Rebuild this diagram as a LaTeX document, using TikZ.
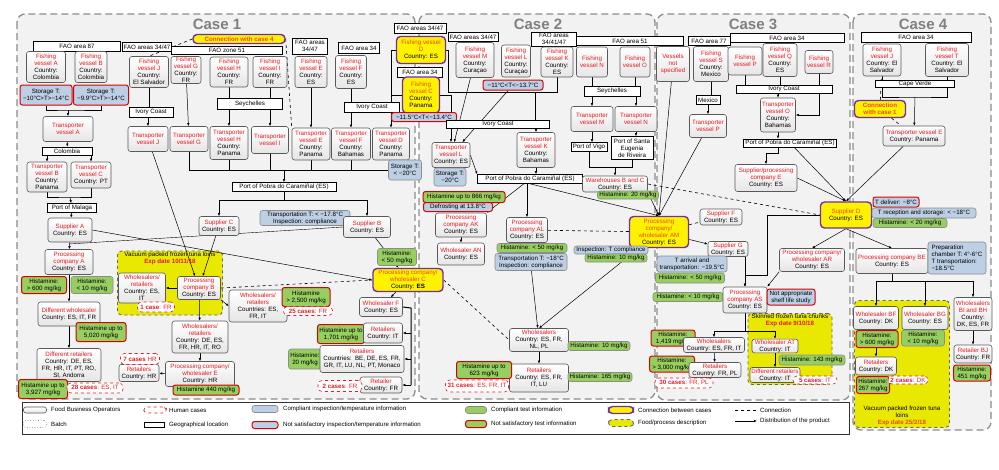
\documentclass[tikz,border=0pt]{standalone}
\usepackage{fontspec}
\setmainfont{Liberation Sans}
\usetikzlibrary{arrows.meta,calc}
\definecolor{fbored}{RGB}{228,28,36}
\definecolor{linkred}{RGB}{232,76,12}
\definecolor{inspblue}{RGB}{189,207,229}
\definecolor{testgreen}{RGB}{150,206,96}
\definecolor{linkpurple}{RGB}{112,48,160}
\definecolor{foodyellow}{RGB}{232,232,0}
\newcommand{\rd}{\color{fbored}}
\newcommand{\rl}{\color{linkred}}
\pgfdeclarelayer{bg}
\pgfdeclarelayer{wires}
\pgfsetlayers{bg,wires,main}
\tikzset{
wh/.style 2 args={minimum width=#1,minimum height=#2},
fbase/.style={rounded corners=2.5pt,inner sep=0.5pt,align=center},
fbo/.style={fbase,draw=black!65,line width=0.6pt,top color=white,bottom color=black!10},
geo/.style={draw=black,line width=0.6pt,fill=white,inner sep=0.5pt,align=center},
insp/.style={fbase,draw=black!45,line width=0.6pt,fill=inspblue},
inspbad/.style={fbase,draw=red!85!black,line width=1pt,fill=inspblue},
testok/.style={fbase,draw=black!45,line width=0.6pt,fill=testgreen},
testbad/.style={fbase,draw=red!85!black,line width=1pt,fill=testgreen},
linkbox/.style={fbase,rounded corners=4pt,draw=linkpurple,line width=1.4pt,fill=yellow},
human/.style={fbase,rounded corners=4pt,draw=fbored,dashed,line width=0.6pt,fill=white,text=fbored},
batchsym/.style={fbase,draw=black!50,dotted,line width=0.6pt,fill=white},
food/.style={rounded corners=4pt,draw=black!60,dashed,line width=0.9pt,fill=foodyellow},
casebox/.style={rounded corners=8pt,draw=black!45,dash pattern=on 7pt off 4pt,line width=1.3pt,fill=black!5},
casettl/.style={font=\fontsize{15}{15}\selectfont\bfseries,text=black!50},
dist/.style={-{Latex[length=3pt,width=2.4pt]},line width=0.5pt},
conn/.style={dashed,line width=0.6pt},
legtxt/.style={anchor=west,inner sep=0pt,font=\fontsize{6.1}{7}\selectfont}
}
\begin{document}
\begin{tikzpicture}[x=1pt,y=-1pt,every node/.style={font=\fontsize{6.2}{7}\selectfont}]
\useasboundingbox (0,0) rectangle (999,469);

% case frames and batches
\begin{pgfonlayer}{bg}
\draw[casebox] (17,14) rectangle (415,399);
\draw[casebox] (419,14) rectangle (655,399);
\draw[casebox] (657,14) rectangle (850,400);
\draw[casebox] (853,14) rectangle (991,430);
\node[food,wh={105}{64}] (exp1) at (170,283) {};
\node[food,wh={84}{71}] (exp3) at (790,349) {};
\node[food,wh={95}{127}] (exp4) at (902,364) {};
\end{pgfonlayer}

\node[casettl] (ttl1) at (217,24) {Case 1};
\node[casettl] (ttl2) at (538,24) {Case 2};
\node[casettl] (ttl3) at (753,24) {Case 3};
\node[casettl] (ttl4) at (923,24) {Case 4};

% case 1
\node[geo,wh={87}{10}] (fao87) at (77,46) {FAO area 87};
\node[fbo,wh={39}{31}] (fvA) at (46,67) {\rd Fishing\\\rd vessel A\\Country:\\Colombia};
\node[fbo,wh={32}{31}] (fvB) at (91,67) {\rd Fishing\\\rd vessel B\\Country:\\Colombia};
\node[inspbad,wh={52}{20}] (stA) at (46,95) {Storage T:\\−10°C>T>−14°C};
\node[inspbad,wh={55}{20}] (stB) at (101,95) {Storage T:\\−9.9°C>T>−14°C};
\node[fbo,wh={50}{25}] (tvA) at (68,129) {\rd Transporter\\\rd vessel A};
\node[geo,wh={50}{8}] (col) at (67,151) {Colombia};
\node[fbo,wh={40}{30}] (tvB) at (47,177) {\rd Transporter\\\rd vessel B\\Country:\\Panama};
\node[fbo,wh={40}{26}] (tvC) at (91,175) {\rd Transporter\\\rd vessel C\\Country: PT};
\node[geo,wh={49}{9}] (mal) at (72,208) {Port of Malaga};
\node[fbo,wh={44}{24}] (supA) at (70,230) {\rd Supplier A\\Country: ES};
\node[fbo,wh={48}{25}] (pcA) at (69,262) {\rd Processing\\\rd company A\\Country: ES};
\node[testbad,wh={45}{17}] (hA1) at (44,285) {Histamine:\\> 600 mg/kg};
\node[testok,wh={42}{17}] (hA2) at (92,285) {Histamine:\\< 10 mg/kg};
\node[fbo,wh={62}{24}] (dwh) at (69,314) {\rd Different wholesaler\\Country: ES, IT, FR};
\node[testbad,wh={50}{19}] (hdw) at (101,332) {Histamine up to\\5,020 mg/kg};
\node[fbo,wh={64}{33}] (drt) at (69,365) {\rd Different retailers\\Country: DE, ES,\\FR, HR, IT, PT, RO,\\SI, Andorra};
\node[testbad,wh={49}{19}] (hdr) at (43,389) {Histamine up to\\3,927 mg/kg};
\node[human,wh={56}{10}] (hc28) at (95,388) {\textbf{28 cases}: ES, IT};

\node[geo,wh={49}{9}] (fao3447a) at (147,47) {FAO areas 34/47};
\node[geo,wh={111}{8}] (fz51) at (227,50) {FAO zone 51};
\node[linkbox,wh={92}{9},font=\fontsize{6.2}{7}\selectfont\bfseries] (lnk4) at (239,39) {\rl Connection with case 4};
\node[fbo,wh={39}{31}] (fvJ) at (149,72) {\rd Fishing\\\rd vessel J\\Country:\\El Salvador};
\node[fbo,wh={30}{27}] (fvG) at (186,70) {\rd Fishing\\\rd vessel G\\Country:\\FR};
\node[fbo,wh={38}{30}] (fvH) at (229,72) {\rd Fishing\\\rd vessel H\\Country:\\FR};
\node[fbo,wh={34}{31}] (fvI) at (270,72) {\rd Fishing\\\rd vessel I\\Country:\\FR};
\node[geo,wh={35}{16}] (fao3447b) at (310,46) {FAO areas\\34/47};
\node[fbo,wh={32}{31}] (fvE) at (311,72) {\rd Fishing\\\rd vessel E\\Country:\\ES};
\node[geo,wh={41}{11}] (fao34a) at (359,48) {FAO area 34};
\node[fbo,wh={31}{33}] (fvF) at (351,72) {\rd Fishing\\\rd vessel F\\Country:\\ES};
\node[geo,wh={44}{10}] (icA) at (151,112) {Ivory Coast};
\node[geo,wh={65}{11}] (sey1) at (250,104) {Seychelles};
\node[geo,wh={55}{10}] (icB) at (372,107) {Ivory Coast};
\node[fbo,wh={40}{25}] (tvJ) at (148,139) {\rd Transporter\\\rd vessel J};
\node[fbo,wh={38}{25}] (tvG) at (189,139) {\rd Transporter\\\rd vessel G};
\node[fbo,wh={38}{33}] (tvH) at (229,143) {\rd Transporter\\\rd vessel H\\Country:\\Panama};
\node[fbo,wh={37}{27}] (tvI) at (270,140) {\rd Transporter\\\rd vessel I};
\node[fbo,wh={38}{32}] (tvE) at (311,144) {\rd Transporter\\\rd vessel E\\Country:\\Panama};
\node[fbo,wh={39}{32}] (tvF) at (351,144) {\rd Transporter\\\rd vessel F\\Country:\\Bahamas};
\node[fbo,wh={37}{32}] (tvD) at (391,144) {\rd Transporter\\\rd vessel D\\Country:\\Panama};
\node[insp,wh={33}{20}] (stD) at (405,170) {Storage T:\\< −20°C};
\node[geo,wh={104}{9}] (pob1) at (284,187) {Port of Pobra do Caramiñal (ES)};
\node[fbo,wh={40}{19}] (supC) at (219,226) {\rd Supplier C\\Country: ES};
\node[insp,wh={90}{15}] (trT) at (305,218) {Transportation T: < −17.8°C\\Inspection: compliance};
\node[fbo,wh={47}{21}] (supB) at (367,227) {\rd Supplier B\\Country: ES};
\node[testok,wh={39}{17}] (hC) at (397,257) {Histamine:\\< 50 mg/kg};
\node[linkbox,wh={70}{23}] (pcC) at (408,280) {\rl Processing company/\\\rl wholesaler C\\Country: \textbf{ES}};
\node[anchor=north,align=center,inner sep=1pt] (exp1t) at (exp1.north) {Vacuum packed frozen tuna loins\\\color{fbored}\bfseries Exp date 10/11/18};
\node[fbo,wh={47}{30}] (wr1) at (142,288) {\rd Wholesalers/\\\rd retailers\\Country: ES,\\IT};
\node[fbo,wh={43}{23}] (pcB) at (199,288) {\rd Processing\\\rd company B\\Country: ES};
\node[human,wh={37}{10}] (hc1) at (156,307) {\textbf{1 case}: FR};
\node[fbo,wh={58}{32}] (wr2) at (258,306) {\rd Wholesalers/\\\rd retailers\\Countries: ES,\\FR, IT};
\node[testbad,wh={48}{19}] (hwr2) at (306,297) {Histamine\\> 2,500 mg/kg};
\node[human,wh={49}{9}] (hc25) at (308,311) {\textbf{25 cases}: FR};
\node[fbo,wh={43}{19}] (whF) at (381,307) {\rd Wholesaler F\\Country: ES};
\node[testbad,wh={47}{19}] (hrIT) at (341,334) {Histamine up to\\1,701 mg/kg};
\node[fbo,wh={39}{20}] (rtIT) at (383,333) {\rd Retailers\\Country: IT};
\node[testok,wh={33}{20}] (h20a) at (305,359) {Histamine:\\20 mg/kg};
\node[fbo,wh={84}{27}] (rtM) at (362,359) {\rd Retailers\\Countries:\ \ BE, DE, ES, FR,\\GR, IT, LU, NL, PT, Monaco};
\node[fbo,wh={42}{16}] (rtFR) at (381,385) {\rd Retailer\\Country: FR};
\node[human,wh={44}{11}] (hc2) at (340,386) {\textbf{2 cases}: FR};
\node[fbo,wh={56}{32}] (wr3) at (200,337) {\rd Wholesalers/\\\rd retailers\\Country: DE, ES,\\FR, HR, IT, RO};
\node[fbo,wh={69}{25}] (pcE) at (200,374) {\rd Processing company/\\\rd wholesaler E\\Country: HR};
\node[testbad,wh={66}{10}] (h440) at (206,390) {Histamine 440 mg/kg};
\node[fbo,wh={40}{17}] (rtHR) at (139,373) {\rd Retailers\\Country: HR};
\node[human,wh={39}{11}] (hc7) at (140,359) {\textbf{7 cases} HR};

% case 2
\node[geo,wh={52}{10}] (fao3447c) at (420,28) {FAO areas 34/47};
\node[linkbox,wh={49}{27}] (fvD) at (421,50) {\rl Fishing vessel\\\rl D\\Country: ES};
\node[geo,wh={45}{10}] (fao34b) at (420,72) {FAO area 34};
\node[linkbox,wh={37}{36}] (fvC) at (421,95) {\rl Fishing\\\rl vessel C\\Country:\\Panama};
\node[inspbad,wh={65}{9}] (stC) at (424,117) {−11.5°C<T<−13.4°C};
\node[geo,wh={50}{9}] (fao3447d) at (473,37) {FAO areas 34/47};
\node[fbo,wh={38}{35}] (fvM) at (475,60) {\rd Fishing\\\rd vessel M\\Country:\\Curaçao};
\node[fbo,wh={29}{32}] (fvL) at (516,61) {\rd Fishing\\\rd vessel L\\Country:\\Curaçao};
\node[inspbad,wh={60}{10}] (stL) at (513,85) {−11°C<T<−13.7°C};
\node[geo,wh={45}{14}] (fao344147) at (554,39) {FAO areas\\34/41/47};
\node[geo,wh={107}{9}] (fao51) at (630,41) {FAO area 51};
\node[fbo,wh={32}{30}] (fvK) at (557,62) {\rd Fishing\\\rd vessel K\\Country:\\ES};
\node[fbo,wh={31}{30}] (fvN) at (592,62) {\rd Fishing\\\rd vessel N};
\node[fbo,wh={30}{30}] (fvO) at (635,62) {\rd Fishing\\\rd vessel O};
\node[geo,wh={103}{8}] (icC) at (498,124) {Ivory Coast};
\node[geo,wh={56}{10}] (sey2) at (612,91) {Seychelles};
\node[fbo,wh={42}{25}] (tvM) at (592,119) {\rd Transporter\\\rd vessel M};
\node[fbo,wh={42}{25}] (tvN) at (636,119) {\rd Transporter\\\rd vessel N};
\node[geo,wh={36}{9}] (vigo) at (589,147) {Port of Vigo};
\node[geo,wh={42}{23}] (eug) at (632,148) {Port of Santa\\Eugenia\\de Riveira};
\node[fbo,wh={38}{25}] (tvL) at (451,155) {\rd Transporter\\\rd vessel L\\Country: ES};
\node[insp,wh={32}{18}] (stLL) at (450,177) {Storage T:\\−20°C};
\node[fbo,wh={38}{35}] (tvK) at (536,150) {\rd Transporter\\\rd vessel K\\Country:\\Bahamas};
\node[geo,wh={105}{9}] (pob2) at (530,179) {Port of Pobra do Caramiñal (ES)};
\node[fbo,wh={65}{16}] (whBC) at (615,184) {\rd Warehouses B and C\\Country: ES};
\node[testok,wh={61}{8}] (h20b) at (628,195) {Histamine: 20 mg/kg};
\node[testbad,wh={82}{11}] (h866) at (464,197) {Histamine up to 866 mg/kg};
\node[inspbad,wh={69}{9}] (dfr) at (458,207) {Defrosting at 13.8°C};
\node[fbo,wh={51}{24}] (pcAK) at (461,225) {\rd Processing\\\rd company AK\\Country: ES};
\node[fbo,wh={47}{22}] (whAN) at (461,254) {\rd Wholesaler AN\\Country: ES};
\node[fbo,wh={41}{25}] (pcAL) at (527,230) {\rd Processing\\\rd company AL\\Country: ES};
\node[testok,wh={70}{9}] (h50b) at (532,248) {Histamine: < 50 mg/kg};
\node[insp,wh={72}{17}] (trT2) at (531,262) {Transportation T: −18°C\\Inspection: compliance};
\node[linkbox,wh={59}{31}] (pcAM) at (659,232) {\rl Processing\\\rl company/\\\rl wholesaler AM\\Country: ES};
\node[insp,wh={74}{8}] (inT) at (611,250) {Inspection: T compliance};
\node[testok,wh={62}{8}] (h10b) at (616,258) {Histamine: 10 mg/kg};
\node[fbo,wh={59}{23}] (whs2) at (539,340) {\rd Wholesalers\\Country: ES, FR,\\NL, PL};
\node[testok,wh={62}{9}] (h10c) at (599,346) {Histamine: 10 mg/kg};
\node[fbo,wh={59}{28}] (rts2) at (539,378) {\rd Retailers\\Country: ES, FR,\\IT, LU};
\node[testok,wh={64}{9}] (h165) at (600,377) {Histamine: 165 mg/kg};
\node[testbad,wh={55}{17}] (h623) at (484,370) {Histamine up to\\623 mg/kg};
\node[human,wh={63}{12}] (hc31) at (477,386) {\textbf{31 cases}: ES, FR, IT};

% case 3
\node[geo,wh={42}{9}] (fao77) at (709,41) {FAO area 77};
\node[geo,wh={114}{9}] (fao34c) at (787,38) {FAO area 34};
\node[fbo,wh={33}{35}] (vns) at (673,64) {\rd Vessels\\\rd not\\\rd specified};
\node[fbo,wh={35}{35}] (fvS) at (711,64) {\rd Fishing\\\rd vessel S\\Country:\\Mexico};
\node[fbo,wh={34}{28}] (fvP) at (745,61) {\rd Fishing\\\rd vessel P};
\node[fbo,wh={34}{33}] (fvQ) at (780,60) {\rd Fishing\\\rd vessel Q\\Country:\\ES};
\node[fbo,wh={28}{23}] (fvR) at (819,62) {\rd Fishing\\\rd vessel R};
\node[geo,wh={24}{9}] (mex) at (708,100) {Mexico};
\node[fbo,wh={37}{23}] (tvP) at (708,126) {\rd Transporter\\\rd vessel P};
\node[geo,wh={96}{8}] (ic3) at (784,89) {Ivory Coast};
\node[fbo,wh={35}{34}] (tvO) at (778,115) {\rd Transporter\\\rd vessel O\\Country:\\Bahamas};
\node[geo,wh={93}{8}] (pob3) at (790,143) {Port of Pobra do Caramiñal (ES)};
\node[fbo,wh={62}{27}] (spE) at (766,178) {\rd Supplier/processing\\\rd company E\\Country: ES};
\node[linkbox,wh={51}{26}] (supD) at (846,215) {\rl Supplier D\\Country: ES};
\node[inspbad,wh={46}{10}] (tdel) at (896,202) {T deliver: −8°C};
\node[insp,wh={104}{10}] (trec) at (924,213) {T reception and storage: < −18°C};
\node[testok,wh={74}{9}] (h20c) at (910,223) {Histamine: < 20 mg/kg};
\node[fbo,wh={42}{16}] (supF) at (721,217) {\rd Supplier F\\Country: ES};
\node[fbo,wh={40}{15}] (supG) at (728,249) {\rd Supplier G\\Country: ES};
\node[insp,wh={70}{16}] (tarr) at (692,264) {T arrival and\\transportation: −19.5°C};
\node[testok,wh={69}{10}] (h50c) at (690,278) {Histamine: < 50 mg/kg};
\node[testok,wh={70}{9}] (h10d) at (688,297) {Histamine: < 10 mg/kg};
\node[fbo,wh={44}{26}] (pcAS) at (745,300) {\rd Processing\\\rd company AS\\Country: ES};
\node[inspbad,wh={48}{16}] (nasl) at (791,297) {Not appropriate\\shelf life study};
\node[fbo,wh={65}{23}] (pcAR) at (812,260) {\rd Processing company/\\\rd wholesaler AR\\Country: ES};
\node[anchor=north,align=center,inner sep=1pt] (exp3t) at (exp3.north) {Skinned frozen tuna chunks\\\color{fbored}\bfseries Exp date 9/10/18};
\node[fbo,wh={46}{13}] (whAT) at (775,346) {\rd Wholesaler AT\\Country: IT};
\node[testok,wh={66}{10}] (h143) at (812,360) {Histamine: 143 mg/kg};
\node[fbo,wh={50}{15}] (drt3) at (775,375) {\rd Different retailers\\Country: IT};
\node[human,wh={44}{8}] (hc5) at (815,380) {\textbf{5 cases}: IT};
\node[testbad,wh={44}{16}] (h1419) at (673,338) {Histamine:\\1,419 mg/kg};
\node[fbo,wh={61}{15}] (whs3) at (714,345) {\rd Wholesalers\\Country: ES, FR, IT};
\node[testbad,wh={45}{16}] (h3000) at (672,364) {Histamine:\\> 3,000 mg/kg};
\node[fbo,wh={52}{15}] (rts3) at (715,370) {\rd Retailers\\Country: FR, PL};
\node[human,wh={58}{10}] (hc30) at (684,383) {\textbf{30 cases}: FR, PL};

% case 4
\node[geo,wh={110}{10}] (fao34d) at (916,37) {FAO area 34};
\node[fbo,wh={38}{32}] (fvJ4) at (882,60) {\rd Fishing\\\rd vessel J\\Country: El\\Salvador};
\node[fbo,wh={43}{33}] (fvT) at (947,60) {\rd Fishing\\\rd vessel T\\Country: El\\Salvador};
\node[geo,wh={79}{7}] (cv) at (915,84) {Cape Verde};
\node[linkbox,wh={51}{17},font=\fontsize{6.2}{7}\selectfont\bfseries] (lnk1) at (880,109) {\rl Connection\\\rl with case 1};
\node[fbo,wh={62}{20}] (tvE4) at (914,136) {\rd Transporter vessel E\\Country: Panama};
\node[fbo,wh={72}{25}] (pcBE) at (892,261) {\rd Processing company BE\\Country: ES};
\node[insp,wh={58}{32},align=left] (prep) at (957,258) {Preparation\\chamber T: 4°-6°C\\T transportation:\\−18.5°C};
\node[fbo,wh={45}{23}] (whBF) at (876,318) {\rd Wholesaler BF\\Country: DK};
\node[fbo,wh={46}{23}] (whBG) at (925,318) {\rd Wholesaler BG\\Country: ES};
\node[fbo,wh={38}{33}] (whBI) at (973,314) {\rd Wholesalers\\\rd BI and BH\\Country:\\DK, ES, FR};
\node[testbad,wh={42}{17}] (h600b) at (877,339) {Histamine:\\> 600 mg/kg};
\node[testok,wh={43}{16}] (h10e) at (923,338) {Histamine:\\< 10 mg/kg};
\node[fbo,wh={41}{18}] (rtDK) at (876,366) {\rd Retailers\\Country: DK};
\node[testbad,wh={33}{17}] (h267) at (873,385) {Histamine:\\267 mg/kg};
\node[human,wh={40}{8}] (hc2dk) at (908,380) {\textbf{2 cases}: DK};
\node[fbo,wh={38}{18}] (rtBJ) at (973,354) {\rd Retailer BJ\\Country: FR};
\node[testbad,wh={37}{16}] (h451) at (972,373) {Histamine:\\451 mg/kg};
\node[anchor=south,align=center,inner sep=2pt] (exp4t) at (exp4.south) {Vacuum packed frozen tuna\\loins\\\color{linkred}\bfseries Exp date 25/2/18};

% connectors
\begin{pgfonlayer}{wires}
\coordinate (jA) at (68,110);
\draw (stA.south) |- (jA) -| (stB.south);
\draw[dist] (jA) -- (tvA);
\draw[dist] (tvA) -- (col);
\draw[dist] (col.south -| tvB) -- (tvB);
\draw[dist] (col.south -| tvC) -- (tvC);
\coordinate (jM) at (70,197);
\draw (tvB.south) |- (jM) -| (tvC.south);
\draw[dist] (jM) -- (mal);
\draw[dist] (mal) -- (supA);
\draw[dist] (supA) -- (pcA);
\coordinate (jB) at (69,244);
\draw (supB.west) -- (jB);
\draw[dist] (supA.east) -- (pcC.west);
\draw[dist] (pcA) -- (dwh);
\draw[dist] (dwh) -- (drt);
\draw (fvJ.south) -- (fvJ.south |- icA.north);
\draw[dist] (icA.south -| tvJ) -- (tvJ);
\draw[dist] (fvG) -- (tvG);
\draw (fvH) -- (fvH |- sey1.north);
\draw[dist] (sey1.south -| tvH) -- (tvH);
\draw (fvI) -- (fvI |- sey1.north);
\draw[dist] (sey1.south -| tvI) -- (tvI);
\draw[dist] (fvE) -- (tvE);
\draw (fvF) -- (fvF |- icB.north);
\draw[dist] (icB.south -| tvF) -- (tvF);
\draw (fvD.west) -- (fvD.west -| tvD) -- (tvD |- icB.north);
\draw (fvC.west) -- (fvC.west -| tvD);
\draw[dist] (icB.south -| tvD) -- (tvD);
\draw (tvG.south) |- (stD.west);
\foreach \tv in {tvH,tvI,tvE,tvF}
  \draw (\tv.south) -- (\tv.south |- stD.west);
\draw[dist] (pob1.north |- stD.west) -- (pob1);
\coordinate (jP) at (284,200);
\draw (pob1) -- (jP);
\draw[dist] (jP) -| (supC);
\draw[dist] (jP) -| (supB);
\draw[dist] (supC) -- (pcB);
\draw[dist] (tvJ) -- (pcB);
\draw[dist] (supB) -- (pcC);
\draw[dist] (pcB) -- (wr1);
\draw[dist] (pcB) -- (wr3);
\draw[dist] (pcB.south east) -- (wr2.west);
\draw[conn] (pcB.east) -- (pcC.west);
\draw[dist] (pcC) -- (whF);
\coordinate (jF) at (411,308);
\draw[line width=1pt] (whF.east) -- (jF) -- (jF |- rtFR.east);
\draw[dist] (jF |- rtIT.east) -- (rtIT.east);
\draw[dist] (jF |- rtM.east) -- (rtM.east);
\draw[dist] (jF |- rtFR.east) -- (rtFR.east);
\draw[dist] (wr3) -- (pcE);
\draw[dist] (pcE) -- (rtHR);
\draw[conn] (lnk4.west) -- (fvJ.north);
\draw[conn] (lnk4.east) -- (tvE.north west);
% case 2
\coordinate (jD) at (448,92);
\coordinate (jK) at (535,92);
\draw (fvD.east) -| (jD) -- (fvK |- jD) -- (fvK);
\draw (jK) -- (jK |- icC.north);
\draw (fvC.east) -| (tvL |- icC.north);
\draw[dist] (icC.south -| tvL) -- (tvL);
\draw[dist] (icC.south -| tvK) -- (tvK);
\draw[dist] (fvM) -- (tvL);
\draw[dist] (stL) -- (tvL);
\draw (fvN) -- (fvN |- sey2.north);
\draw[dist] (sey2.south -| tvM) -- (tvM);
\draw (fvO) -- (fvO |- sey2.north);
\draw[dist] (sey2.south -| tvN) -- (tvN);
\draw[dist] (tvM) -- (tvM |- vigo.north);
\draw[dist] (tvN) -- (tvN |- eug.north);
\coordinate (jW) at (615,167);
\draw (vigo.south) |- (jW);
\draw (eug.south) |- (jW);
\draw[dist] (jW) -- (whBC);
\draw[dist] (tvK) -- (tvK |- pob2.north);
\draw[dist] (tvL.east) -- (pob2.north west);
\draw[dist] (pob2) -- (pcAK.north east);
\draw[dist] (pob2.south -| pcAL) -- (pcAL);
\draw[dist] (pob2.south) -- (pcAM.north);
\draw[dist] (whBC.south east) -- (pcAM.north);
\draw[dist] (vns) -- (pcAM.north);
\draw[dist] (tvP) -- (pcAM.north);
\draw[dist] (pcAK) -- (whAN);
\draw[conn] (pcAL) -- (pcAM);
\draw[dist] (pcAL) -- (whs2);
\draw[dist] (pcAM) -- (whs2.north);
\draw[conn] (pcC.east) -- (whs2.west);
\draw[dist] (whs2) -- (rts2);
\draw[conn] (pcAM) -- (supF);
\draw[dist] (pcAM) -- (supG);
\draw[conn] (whBC.east) -- (supD.west);
% case 3
\draw (fvS) -- (fvS |- mex.north);
\draw[dist] (mex) -- (tvP);
\draw (fvP) -- (fvP |- ic3.north);
\draw (fvQ) -- (fvQ |- ic3.north);
\draw[dist] (ic3.south -| tvO) -- (tvO);
\draw[dist] (fvR) |- (tvO);
\draw[dist] (tvO) -- (tvO |- pob3.north);
\coordinate (jE) at (778,153);
\draw[dist] (pob3.south -| jE) -- (jE) -| (spE);
\draw[dist] (pob3) -- (supD.north);
\draw[dist] (spE.east) -- (supD.north);
\draw[dist] (tvE4) -- (supD.north);
\draw[dist] (supD.south) -- (pcAR.north);
\draw[dist] (supD.south) -- (pcBE.north);
\coordinate (jS) at (767,275);
\draw[dist] (supD.west) -| (jS) -| (pcAS.north);
\draw[dist] (supG.south -| pcAS.north) -- (pcAS.north);
\draw[dist] (pcAR.south west) -- (pcAS.north east);
\coordinate (jT) at (745,331);
\draw (pcAS) -- (jT);
\draw[dist] (jT) -| (whs3);
\draw[dist] (jT) -| (whAT);
\draw[dist] (whs3) -- (rts3);
\draw[dist] (whAT) -- (drt3);
% case 4
\draw (fvJ4) -- (fvJ4 |- cv.north);
\draw (fvT) -- (fvT |- cv.north);
\coordinate (jV) at (915,97);
\draw (cv.south -| fvJ4) |- (jV) -| (cv.south -| fvT);
\draw[dist] (jV) -- (tvE4);
\draw[conn] (lnk1) -- (fvJ4);
\draw[conn] (lnk1) -- (tvE4);
\coordinate (jBE) at (892,281);
\draw (pcBE) -- (jBE);
\draw[dist] (jBE) -| (whBF);
\draw[dist] (jBE) -| (whBG);
\draw[dist] (jBE) -| (whBI);
\draw[dist] (whBF) -- (rtDK);
\draw[dist] (whBI) -- (rtBJ);
\end{pgfonlayer}

% legend
\node[draw=black!80,fill=white,line width=0.8pt,wh={827}{32}] (leg) at (435.5,418) {};
\node[fbo,wh={23}{6}] (lg1) at (35,410) {};
\node[legtxt] (lg1t) at (51,410) {Food Business Operators};
\node[batchsym,wh={23}{7}] (lg2) at (35,424) {};
\node[legtxt] (lg2t) at (51,424) {Batch};
\node[human,wh={23}{6}] (lg3) at (155,410) {};
\node[legtxt] (lg3t) at (169,410) {Human cases};
\node[geo,wh={20}{5}] (lg4) at (154,425) {};
\node[legtxt] (lg4t) at (169,425) {Geographical location};
\node[insp,wh={26}{7}] (lg5) at (265,409) {};
\node[legtxt] (lg5t) at (283,409) {Compliant inspection/temperature information};
\node[inspbad,wh={26}{7}] (lg6) at (265,425) {};
\node[legtxt] (lg6t) at (283,425) {Not satisfactory inspection/temperature information};
\node[testok,wh={21}{7}] (lg7) at (476,410) {};
\node[legtxt] (lg7t) at (491,410) {Compliant test information};
\node[testbad,wh={21}{7}] (lg8) at (476,424) {};
\node[legtxt] (lg8t) at (491,424) {Not satisfactory test information};
\node[linkbox,wh={25}{7}] (lg9) at (621,410) {};
\node[legtxt] (lg9t) at (638,410) {Connection between cases};
\node[food,wh={25}{7}] (lg10) at (621,423) {};
\node[legtxt] (lg10t) at (638,423) {Food/process description};
\coordinate (lg11a) at (735,410);
\coordinate (lg11b) at (757,410);
\draw[conn] (lg11a) -- (lg11b);
\node[legtxt] (lg11t) at (760,410) {Connection};
\coordinate (lg12a) at (735,421);
\coordinate (lg12b) at (757,421);
\draw[dist] (lg12a) -- (lg12b);
\node[legtxt] (lg12t) at (760,421) {Distribution of the product};
\end{tikzpicture}
\end{document}
